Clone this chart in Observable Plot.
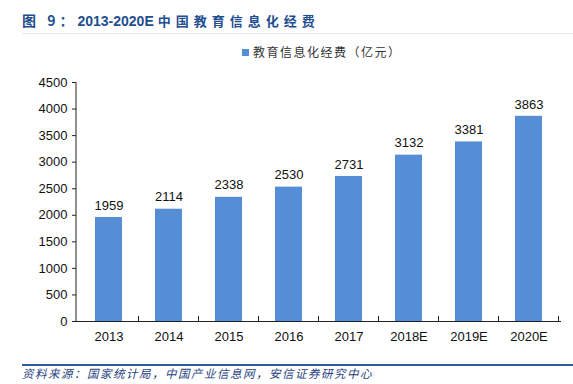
<!DOCTYPE html>
<html><head><meta charset="utf-8">
<script src="https://cdn.jsdelivr.net/npm/d3@7"></script>
<script src="https://cdn.jsdelivr.net/npm/@observablehq/plot@0.6"></script>
<style>
body{margin:0;background:#fff;}
#wrap{position:relative;width:573px;height:384px;overflow:hidden;font-family:"Liberation Sans",Arial,sans-serif;}
#title{position:absolute;left:22px;top:10px;font-weight:bold;font-size:14px;color:#1f4e8f;white-space:nowrap;}
#title .pre{font-family:"Noto Sans CJK SC",sans-serif;letter-spacing:4px;}
#title .cn{font-family:"Noto Sans CJK SC",sans-serif;letter-spacing:5px;font-size:13px;}
#tline{position:absolute;left:22px;top:33px;width:551px;height:1px;background:#e3e6ee;}
#legend{position:absolute;left:242px;top:43px;font-size:12px;color:#333;font-family:"Noto Sans CJK SC",sans-serif;letter-spacing:1.5px;white-space:nowrap;}
#legend .sw{display:inline-block;width:7px;height:7px;background:#558ed5;margin-right:4px;vertical-align:1px;}
#chart{position:absolute;left:0;top:60px;}
#bline{position:absolute;left:22px;top:364px;width:551px;height:2px;background:#2e5a9e;}
#source{position:absolute;left:22px;top:365px;font-size:11.5px;font-style:italic;color:#1f3f80;font-family:"Noto Sans CJK SC",sans-serif;letter-spacing:1.5px;white-space:nowrap;}
</style></head>
<body>
<div id="wrap">
  <div id="title"><span class="pre">图 9：</span>2013-2020E <span class="cn">中国教育信息化经费</span></div>
  <div id="tline"></div>
  <div id="legend"><span class="sw"></span>教育信息化经费（亿元）</div>
  <div id="chart"></div>
  <div id="bline"></div>
  <div id="source">资料来源：国家统计局，中国产业信息网，安信证券研究中心</div>
</div>
<script>
const years = ["2013","2014","2015","2016","2017","2018E","2019E","2020E"];
const values = [1959, 2114, 2338, 2530, 2731, 3132, 3381, 3863];
const yTicks = [0,500,1000,1500,2000,2500,3000,3500,4000,4500];
const seriesName = "教育信息化经费（亿元）";
const barColor = "#558ed5";

const data = years.map((y,i)=>({year:y, value:values[i]}));

const chart = Plot.plot({
  width: 573,
  height: 290,
  marginTop: 22,
  marginBottom: 29,
  marginLeft: 76,
  marginRight: 12,
  style: {fontFamily: "'Liberation Sans', Arial, sans-serif", fontSize: "13px", color: "#111", background: "transparent"},
  x: {domain: years, paddingInner: 0.55, paddingOuter: 0.275, label: null, tickSize: 0, tickPadding: 10},
  y: {domain: [0,4500], ticks: yTicks, label: null, tickSize: 4, tickPadding: 5, tickFormat: d=>String(d)},
  marks: [
    Plot.barY(data, {x:"year", y:"value", fill: barColor}),
    Plot.text(data, {x:"year", y:"value", text: d=>String(d.value), dy:-12, fontSize:13, fill:"#111"}),
    Plot.ruleY([0], {stroke:"#222", strokeWidth:1}),
    Plot.axisY({ticks: yTicks, tickSize: 4, tickPadding: 5, tickFormat: d=>String(d), label:null, stroke:"#222"})
  ]
});
document.getElementById("chart").appendChild(chart);

// y axis line and category separator ticks, positioned from the plot's scales
const xs = chart.scale("x"), ys = chart.scale("y");
const svg = d3.select(chart);
const y0 = ys.apply(0), yTop = ys.apply(4500);
const xLeft = xs.range[0];
svg.append("line").attr("x1",xLeft).attr("x2",xLeft).attr("y1",yTop).attr("y2",y0).attr("stroke","#222");
years.forEach((y,i)=>{
  const xr = xs.apply(y) - (xs.step - xs.bandwidth)/2 + xs.step;
  svg.append("line").attr("x1",xr).attr("x2",xr).attr("y1",y0).attr("y2",y0-5).attr("stroke","#222");
});
</script>
</body></html>
